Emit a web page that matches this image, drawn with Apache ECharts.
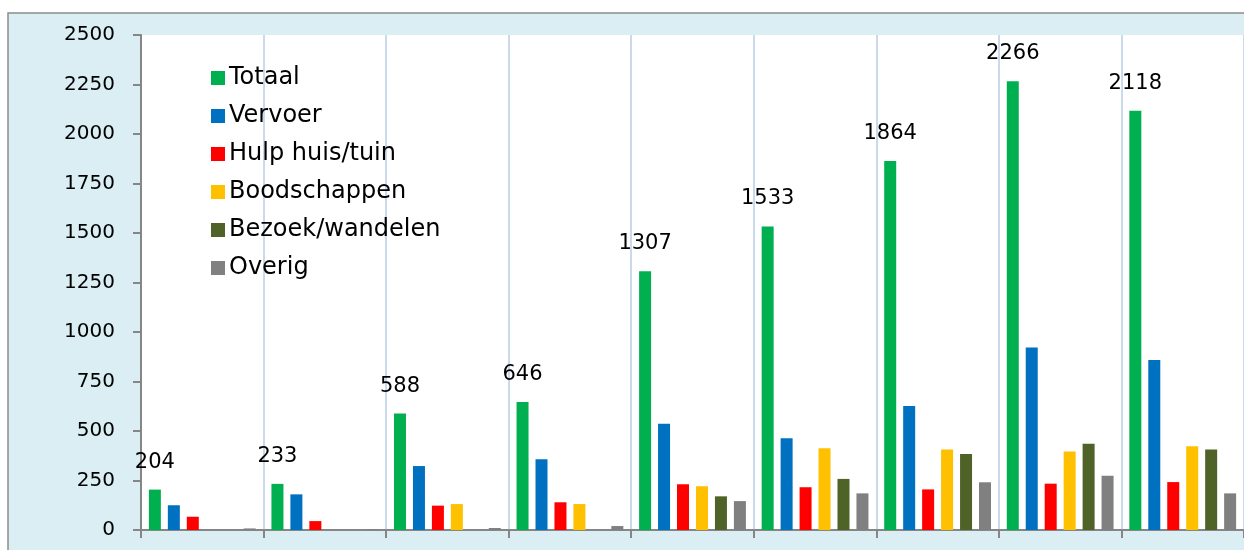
<!DOCTYPE html>
<html>
<head>
<meta charset="utf-8">
<script src="https://cdn.jsdelivr.net/npm/echarts@6/dist/echarts.min.js"></script>
<style>
html, body { margin: 0; padding: 0; background: #fff; }
#main { width: 1244px; height: 550px; }
</style>
</head>
<body>
<div id="main"></div>
<script>
// categorieen (geen labels zichtbaar op de x-as)
var categories = ['1', '2', '3', '4', '5', '6', '7', '8', '9'];
var yTicks = [0, 250, 500, 750, 1000, 1250, 1500, 1750, 2000, 2250, 2500];

var totaal = [204, 233, 588, 646, 1307, 1533, 1864, 2266, 2118];
var vervoer = [125, 180, 323, 357, 537, 463, 626, 922, 859];
var hulp = [67, 45, 123, 140, 231, 216, 205, 234, 242];
var boodschappen = [0, 0, 131, 131, 221, 413, 406, 397, 423];
var bezoek = [0, 0, 0, 0, 170, 258, 384, 436, 406];
var overig = [8, 5, 10, 20, 146, 185, 241, 274, 185];

var names = ['Totaal', 'Vervoer', 'Hulp huis/tuin', 'Boodschappen', 'Bezoek/wandelen', 'Overig'];
var colors = ['#00B050', '#0070C0', '#FF0000', '#FFC000', '#4F6228', '#808080'];
var values = [totaal, vervoer, hulp, boodschappen, bezoek, overig];

var font = 'Tahoma, "DejaVu Sans", sans-serif';

var series = values.map(function (d, i) {
    return {
        name: names[i],
        type: 'bar',
        data: d,
        barWidth: 12,
        barGap: '58%',
        itemStyle: { color: colors[i] },
        label: {
            show: i === 0,
            position: 'top',
            distance: 17,
            color: '#000',
            fontFamily: font,
            fontSize: 21
        }
    };
});

var myChart = echarts.init(document.getElementById('main'));
myChart.setOption({
    animation: false,
    textStyle: { fontFamily: font },
    graphic: [{
        type: 'rect',
        z: -10,
        shape: { x: 8, y: 13, width: 1300, height: 600 },
        style: { fill: '#DAEEF3', stroke: '#8C8C8C', lineWidth: 1.5 }
    }],
    grid: {
        show: true,
        backgroundColor: '#fff',
        borderWidth: 0,
        left: 141, right: 0, top: 35, bottom: 20
    },
    legend: {
        orient: 'vertical',
        left: 206,
        top: 61,
        itemWidth: 14,
        itemHeight: 14,
        itemGap: 14,
        icon: 'rect',
        data: names,
        textStyle: { fontSize: 24, color: '#000', fontFamily: font, padding: [0, 0, 0, -1] }
    },
    xAxis: {
        type: 'category',
        data: categories,
        axisLine: { lineStyle: { color: '#868686', width: 2 } },
        axisTick: { show: true, length: 8, lineStyle: { color: '#868686', width: 2 } },
        axisLabel: { show: false },
        splitLine: { show: true, lineStyle: { color: '#B9CDE5', width: 1.5 } }
    },
    yAxis: {
        type: 'value',
        min: yTicks[0],
        max: yTicks[yTicks.length - 1],
        interval: 250,
        axisLine: { show: true, lineStyle: { color: '#868686', width: 2 } },
        axisTick: { show: true, length: 8, lineStyle: { color: '#868686', width: 2 } },
        axisLabel: {
            fontSize: 20, color: '#000', margin: 26, fontFamily: font,
            formatter: function (v) { return String(v); }
        },
        splitLine: { show: false }
    },
    series: series
});
</script>
</body>
</html>
